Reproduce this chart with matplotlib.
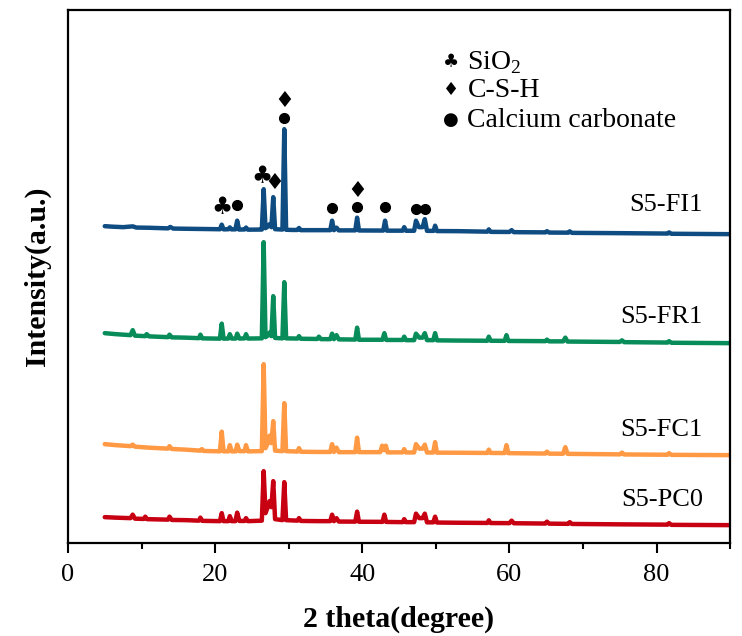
import numpy as np
import matplotlib
matplotlib.use("Agg")
import matplotlib.pyplot as plt

plt.rcParams['font.family'] = ['Liberation Serif', 'DejaVu Sans']
plt.rcParams['mathtext.fontset'] = 'custom'
plt.rcParams['mathtext.rm'] = 'Liberation Serif'

# 读图得到的数据 (2theta, 强度, 已含各曲线的纵向偏移)
fi1 = [(5.0,347),(6.0,346.5),(7.5,346),(8.8,346.8),(9.3,345.6),(11.0,345.4),(13.6,344.8),(13.9,346.2),(14.3,344.6),
       (16.0,344.4),(18.0,344.2),(20.0,344.0),(20.65,343.9),(20.9,348.5),(21.15,343.8),(21.8,343.9),(22.0,345.8),
       (22.2,343.8),(22.75,343.8),(23.0,352.5),(23.25,343.6),(24.0,343.7),(24.2,345.6),(24.45,343.5),(26.0,343.6),
       (26.35,343.6),(26.6,384),(26.85,345),(27.15,346.5),(27.4,349),(27.65,346),(27.9,376),(28.15,344),(29.15,343.6),
       (29.4,444),(29.65,343.4),(30.5,343.2),(31.2,343.2),(31.4,345.2),(31.65,343),(34.0,343),(35.65,343),(35.9,352.5),
       (36.15,343),(36.5,345.5),(36.8,342.8),(39.05,342.8),(39.3,355.5),(39.55,342.7),(42.85,342.6),(43.1,352.5),
       (43.35,342.5),(45.5,342.5),(45.7,346),(45.95,342.4),(47.05,342.4),(47.3,352.5),(47.7,346),(48.2,346),
       (48.5,354),(48.8,342.3),(49.7,342.3),(49.9,347.5),(50.15,342.1),(53.0,342),(57.0,341.5),(57.2,343.8),
       (57.45,341.3),(60.0,341.2),(60.3,343),(60.6,341),(64.9,340.8),(65.1,342),(65.4,340.6),(68.0,340.5),
       (68.2,341.8),(68.5,340.3),(75.0,340),(81.5,339.6),(81.7,340.8),(82.0,339.4),(90.0,339)]
fr1 = [(5.0,240),(6.5,239),(8.5,238),(8.8,243),(9.1,237.5),(10.5,237),(10.7,239),(11.0,236.8),(13.6,236),
       (13.8,238.5),(14.1,235.8),(16.0,235.5),(17.8,235),(18.0,238.5),(18.25,234.8),(20.65,234.5),(20.9,249.5),
       (21.15,234.5),(21.8,234.6),(22.0,239),(22.25,234.6),(22.8,234.6),(23.0,239.5),(23.3,234.6),(24.0,234.8),
       (24.2,239),(24.45,234.6),(26.35,234.8),(26.6,331),(26.85,236),(27.15,237.5),(27.4,240.5),(27.65,237),
       (27.9,277),(28.15,235.2),(29.15,234.8),(29.4,291),(29.65,234.8),(31.2,234.6),(31.4,237),(31.65,234.4),
       (33.9,234.2),(34.1,236.5),(34.4,234),(35.65,234),(35.9,239.5),(36.15,234),(36.5,238),(36.8,233.8),
       (39.05,233.6),(39.3,245.5),(39.55,233.4),(42.75,233.4),(43.0,240),(43.25,233.2),(45.5,233.2),(45.7,236.5),
       (45.95,233),(47.05,233),(47.3,239.5),(47.75,235.5),(48.2,235.5),(48.5,240),(48.8,233),(49.65,233),
       (49.9,240),(50.15,232.8),(53.0,232.6),(57.0,232.4),(57.2,236.5),(57.45,232.4),(59.35,232.3),(59.6,238),
       (59.85,232.2),(64.9,232),(65.1,233.5),(65.4,231.8),(67.3,231.8),(67.6,235.5),(67.9,231.6),(75.0,231.2),
       (75.3,232.8),(75.6,231),(81.5,230.6),(81.7,232),(82.0,230.4),(90.0,230)]
fc1 = [(5.0,129),(6.5,128),(8.5,127),(8.8,128.5),(9.1,126.5),(11.0,125.5),(13.6,124.5),(13.8,127),(14.1,124.2),
       (16.0,123.5),(18.0,122.5),(18.2,124),(18.45,122.2),(20.65,121.8),(20.9,141.5),(21.15,121.8),(21.8,121.8),
       (22.0,128),(22.25,121.8),(22.8,121.8),(23.0,128.5),(23.3,122),(24.0,122),(24.2,128),(24.45,121.8),
       (26.35,122),(26.6,209),(26.85,125),(27.15,130),(27.4,137.5),(27.65,130),(27.9,152),(28.15,122.5),
       (29.15,122),(29.4,170),(29.65,122),(31.2,121.6),(31.4,125),(31.65,121.4),(34.0,121.2),(35.65,121.2),
       (35.9,129),(36.15,121.2),(36.5,125.5),(36.8,121),(39.05,121),(39.3,135.5),(39.55,121),(42.45,121),
       (42.7,127.5),(43.0,123),(43.2,127.5),(43.45,120.8),(45.5,120.8),(45.7,124),(45.95,120.7),(47.05,120.7),
       (47.3,129),(47.75,124.5),(48.2,124.5),(48.5,128.5),(48.8,120.6),(49.65,120.6),(49.9,131),(50.15,120.5),
       (53.0,120.4),(57.0,120.2),(57.2,123.5),(57.45,120.2),(59.35,120.1),(59.6,128),(59.85,120),(64.9,119.6),
       (65.1,121.5),(65.4,119.5),(67.3,119.4),(67.6,126),(67.9,119.3),(75.0,118.8),(75.3,120.5),(75.6,118.7),
       (81.5,118.4),(81.7,120),(82.0,118.3),(90.0,118)]
pc0 = [(5.0,56),(6.5,55.5),(8.5,55),(8.8,58.5),(9.1,54.5),(10.3,54.2),(10.5,56.5),(10.75,54),(13.6,53.5),
       (13.8,56.5),(14.1,53.2),(16.0,53),(17.8,52.5),(18.0,55.5),(18.25,52.3),(20.65,52),(20.9,60),(21.15,52),
       (21.8,52),(22.0,57),(22.25,52),(22.75,52),(23.0,60.5),(23.3,52.2),(24.0,52.2),(24.2,55),(24.45,52),
       (26.35,52.5),(26.6,102),(26.85,60),(27.15,66),(27.4,72),(27.65,66),(27.9,92),(28.15,54),(29.15,53),
       (29.4,91),(29.65,53),(31.2,52.5),(31.4,55),(31.65,52.2),(34.0,52),(35.65,52),(35.9,58.5),(36.15,52),
       (36.5,55),(36.8,51.6),(39.05,51.5),(39.3,61.5),(39.55,51.4),(42.75,51.3),(43.0,58.5),(43.25,51.2),
       (45.5,51),(45.7,54),(45.95,51),(47.05,51),(47.3,59.5),(47.75,55),(48.2,55),(48.5,59.5),(48.8,50.8),
       (49.65,50.8),(49.9,56.5),(50.15,50.6),(53.0,50.4),(57.0,50.2),(57.2,52.8),(57.45,50.1),(60.0,50),
       (60.3,52.5),(60.6,49.9),(64.9,49.6),(65.1,51.5),(65.4,49.5),(68.0,49.3),(68.2,51),(68.5,49.2),
       (75.0,48.8),(81.5,48.5),(81.7,50),(82.0,48.3),(90.0,48)]

names = ["S5-FI1", "S5-FR1", "S5-FC1", "S5-PC0"]
colors = ["#0f4c81", "#078c5a", "#ff9944", "#c70012"]
label_y = [368, 256, 143, 73]

# 物相标记 (2theta, 高度)
clubs = [(20.9,366),(26.3,397)]
diamonds = [(28.0,390),(29.4,472),(39.3,382)]
dots = [(23.0,368),(29.4,455),(35.9,365),(39.3,366),(43.1,366),(47.3,364),(48.5,364)]
legend_items = [("\u2663", r"SiO$_\mathregular{2}$", 511), ("\u2666", "C-S-H", 483), ("\u25cf", "Calcium carbonate", 453)]

fig = plt.figure(figsize=(7.42, 6.36), dpi=100)
ax = fig.add_axes([0.0916, 0.146, 0.8924, 0.838])

for pts, c in zip([fi1, fr1, fc1, pc0], colors):
    t = [p[0] for p in pts]; v = [p[1] for p in pts]
    ax.plot(t, v, color=c, lw=3.2, solid_joinstyle="round", solid_capstyle="round")

for n, ly in zip(names, label_y):
    ax.text(86.3, ly, n, ha="right", va="center", fontsize=19)

for x, y in clubs:
    ax.text(x, y, "\u2663", ha="center", va="center", fontsize=17, family=["DejaVu Sans"])
for x, y in diamonds:
    ax.text(x, y, "\u2666", ha="center", va="center", fontsize=16, family=["DejaVu Sans"])
for x, y in dots:
    ax.plot(x, y, "o", color="black", ms=7)

for sym, txt, y in legend_items:
    ax.text(52.0, y, sym, ha="center", va="center", fontsize=13, family=["DejaVu Sans"])
    ax.text(54.3, y, txt, ha="left", va="center", fontsize=20)

ax.set_xlim(0, 90)
ax.set_ylim(30, 563)
ax.set_xticks([0, 20, 40, 60, 80])
ax.set_xticks(np.arange(0, 91, 10), minor=True)
ax.set_yticks([])
ax.tick_params(axis="x", which="major", direction="out", length=7, width=1.5, labelsize=19, pad=8)
ax.tick_params(axis="x", which="minor", direction="out", length=4, width=1.5)
for s in ax.spines.values():
    s.set_linewidth(1.6)
ax.set_xlabel("2 theta(degree)", fontsize=21.5, fontweight="bold", labelpad=14)
ax.set_ylabel("Intensity(a.u.)", fontsize=21.5, fontweight="bold", labelpad=12)

fig.savefig("out.png", dpi=100)
